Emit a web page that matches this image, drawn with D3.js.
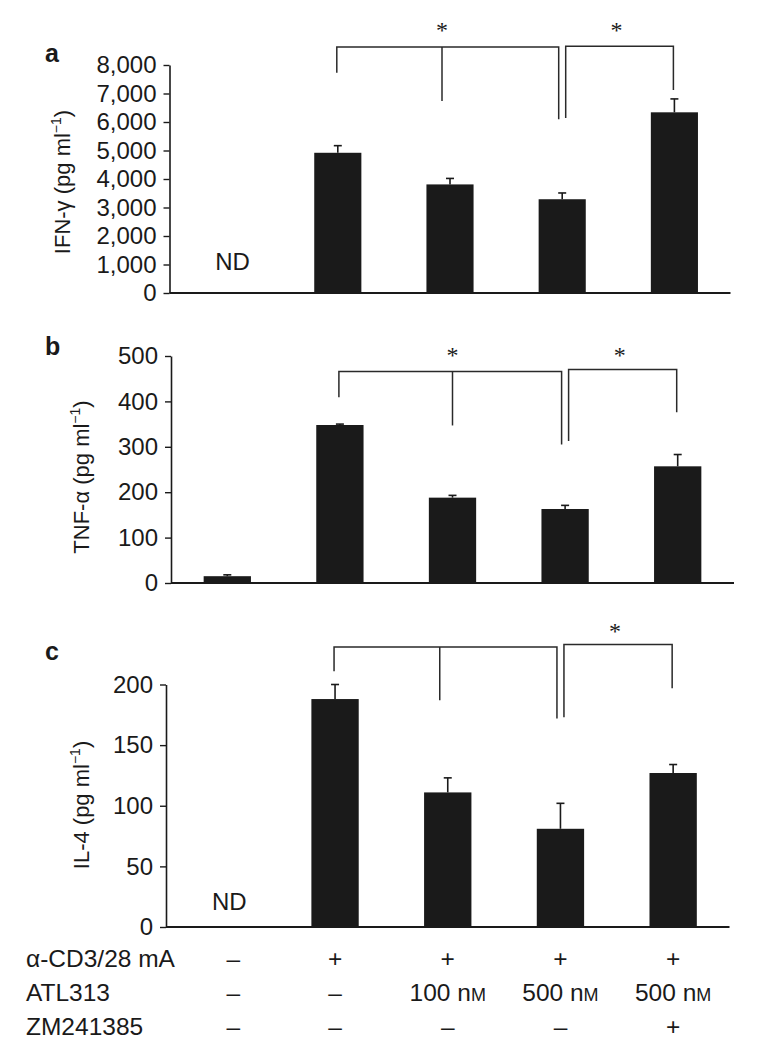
<!DOCTYPE html>
<html>
<head>
<meta charset="utf-8">
<script src="https://cdn.jsdelivr.net/npm/d3@7"></script>
<style>
  html, body { margin: 0; padding: 0; background: #fff; }
  svg { display: block; }
  text { font-family: "Liberation Sans", Arial, Helvetica, sans-serif; fill: #1a1a1a; }
</style>
</head>
<body>
<svg id="chart" width="757" height="1050"></svg>
<script>
// ---------------- DATA ----------------
const groups = ["ctrl", "cd3", "atl100", "atl500", "atl500zm"];

const ifnValues = [null, 4920, 3810, 3290, 6340];
const ifnErrors = [null, 250, 210, 220, 470];
const ifnTicks = [0, 1000, 2000, 3000, 4000, 5000, 6000, 7000, 8000];

const tnfValues = [15, 348, 188, 163, 257];
const tnfErrors = [3, 2, 5, 8, 26];
const tnfTicks = [0, 100, 200, 300, 400, 500];

const il4Values = [null, 188, 111, 81, 127];
const il4Errors = [null, 12, 12, 21, 7];
const il4Ticks = [0, 50, 100, 150, 200];

// significance brackets (values in data units)
const ifnBrackets = [
  { from: 1, to: 3, mid: 2, top: 8630, legFrom: 7730, legMid: 6740, legTo: 6100, star: true },
  { from: 3, to: 4, top: 8660, legFrom: 6140, legTo: 7120, star: true }
];
const tnfBrackets = [
  { from: 1, to: 3, mid: 2, top: 466, legFrom: 409, legMid: 347, legTo: 305, star: true },
  { from: 3, to: 4, top: 470, legFrom: 313, legTo: 376, star: true }
];
const il4Brackets = [
  { from: 1, to: 3, mid: 2, top: 231, legFrom: 211, legMid: 187, legTo: 172, star: false },
  { from: 3, to: 4, top: 233, legFrom: 173, legTo: 197, star: true }
];
const starLevels = { ifn: 9330, tnf: 509, il4: 247 };

const tableRowLabels = ["α-CD3/28 mA", "ATL313", "ZM241385"];
const cd3Row = ["–", "+", "+", "+", "+"];
const atlRow = ["–", "–", "100 nM", "500 nM", "500 nM"];
const zmRow = ["–", "–", "–", "–", "+"];

// ---------------- LAYOUT ----------------
const svg = d3.select("#chart");
const INK = "#1a1a1a";
const FONT = 24;

const panels = [
  { letter: "a", values: ifnValues, errors: ifnErrors, ticks: ifnTicks, fmt: d3.format(","),
    x0: 169.5, x1: 730.5, yTop: 65, yBase: 293, labelX: 70, labelY: 182,
    label: ["IFN-γ (pg ml", "−1", ")"], brackets: ifnBrackets, starKey: "ifn",
    midShift: -8, letterY: 62, ndY: 270 },
  { letter: "b", values: tnfValues, errors: tnfErrors, ticks: tnfTicks, fmt: d3.format("d"),
    x0: 171, x1: 734, yTop: 356, yBase: 583, labelX: 89, labelY: 477,
    label: ["TNF-α (pg ml", "−1", ")"], brackets: tnfBrackets, starKey: "tnf",
    midShift: 0, letterY: 355, ndY: null },
  { letter: "c", values: il4Values, errors: il4Errors, ticks: il4Ticks, fmt: d3.format("d"),
    x0: 166, x1: 729.5, yTop: 684.5, yBase: 927, labelX: 89, labelY: 805,
    label: ["IL-4 (pg ml", "−1", ")"], brackets: il4Brackets, starKey: "il4",
    midShift: -8, letterY: 660, ndY: 910 }
];

let lastX = null;

panels.forEach(p => {
  const g = svg.append("g");
  const x = d3.scaleBand().domain(groups).range([p.x0, p.x1]).paddingInner(0.58).paddingOuter(0.29);
  const y = d3.scaleLinear().domain([p.ticks[0], p.ticks[p.ticks.length - 1]]).range([p.yBase, p.yTop]);
  lastX = x;
  const cx = i => x(groups[i]) + x.bandwidth() / 2;

  // y axis
  const yAxis = d3.axisLeft(y).tickValues(p.ticks).tickFormat(p.fmt).tickSize(6).tickSizeOuter(0).tickPadding(7);
  const ax = g.append("g").attr("transform", `translate(${p.x0},0)`).call(yAxis);
  ax.select(".domain").attr("stroke", INK).attr("stroke-width", 1.6);
  ax.selectAll(".tick line").attr("stroke", INK).attr("stroke-width", 1.4);
  ax.selectAll(".tick text").attr("font-size", FONT).attr("fill", INK)
    .style("font-family", '"Liberation Sans", Arial, sans-serif');

  // x baseline
  g.append("line").attr("x1", p.x0).attr("x2", p.x1).attr("y1", y(0)).attr("y2", y(0))
    .attr("stroke", INK).attr("stroke-width", 1.8);

  // bars
  const data = groups.map((k, i) => ({ k, v: p.values[i], e: p.errors[i] })).filter(d => d.v != null);
  g.selectAll("rect.bar").data(data).join("rect").attr("class", "bar")
    .attr("x", d => x(d.k)).attr("width", x.bandwidth())
    .attr("y", d => y(d.v)).attr("height", d => y(0) - y(d.v))
    .attr("fill", INK);

  // error bars (upper only)
  g.selectAll("line.err").data(data).join("line").attr("class", "err")
    .attr("x1", d => x(d.k) + x.bandwidth() / 2).attr("x2", d => x(d.k) + x.bandwidth() / 2)
    .attr("y1", d => y(d.v)).attr("y2", d => y(d.v + d.e))
    .attr("stroke", INK).attr("stroke-width", 1.6);
  g.selectAll("line.cap").data(data).join("line").attr("class", "cap")
    .attr("x1", d => x(d.k) + x.bandwidth() / 2 - 4).attr("x2", d => x(d.k) + x.bandwidth() / 2 + 4)
    .attr("y1", d => y(d.v + d.e)).attr("y2", d => y(d.v + d.e))
    .attr("stroke", INK).attr("stroke-width", 1.6);

  // ND labels
  groups.forEach((k, i) => {
    if (p.values[i] == null && p.ndY != null) {
      g.append("text").attr("x", cx(i) + 7).attr("y", p.ndY).attr("text-anchor", "middle")
        .attr("font-size", FONT).text("ND");
    }
  });

  // brackets
  const bStroke = "#2a2a2a";
  p.brackets.forEach((b, bi) => {
    const xl = cx(b.from) + (bi === 1 ? 3.5 : -1);
    const xr = cx(b.to) + (bi === 0 ? -3.5 : -1);
    const path = d3.path();
    path.moveTo(xl, y(b.legFrom));
    path.lineTo(xl, y(b.top));
    path.lineTo(xr, y(b.top));
    path.lineTo(xr, y(b.legTo));
    g.append("path").attr("d", path.toString()).attr("fill", "none")
      .attr("stroke", bStroke).attr("stroke-width", 1.5);
    let starX = (xl + xr) / 2 - 3;
    if (b.mid != null) {
      const xm = cx(b.mid) + p.midShift;
      g.append("line").attr("x1", xm).attr("x2", xm).attr("y1", y(b.top)).attr("y2", y(b.legMid))
        .attr("stroke", bStroke).attr("stroke-width", 1.5);
      starX = xm;
    }
    if (b.star) {
      g.append("text").attr("x", starX).attr("y", y(starLevels[p.starKey]) + 11)
        .attr("text-anchor", "middle").attr("font-size", 24)
        .style("font-family", '"Liberation Serif", "DejaVu Serif", serif').attr("fill", "#444")
        .text("*");
    }
  });

  // y label
  const lt = g.append("text").attr("transform", `translate(${p.labelX},${p.labelY}) rotate(-90)`)
    .attr("text-anchor", "middle").attr("font-size", 22);
  lt.append("tspan").text(p.label[0]);
  lt.append("tspan").attr("font-size", 14).attr("dy", -9).text(p.label[1]);
  lt.append("tspan").attr("dy", 9).text(p.label[2]);

  // panel letter
  g.append("text").attr("x", 45).attr("y", p.letterY).attr("font-size", 25)
    .attr("font-weight", "bold").text(p.letter);
});

// ---------------- TABLE ----------------
const rows = [cd3Row, atlRow, zmRow];
const rowY = [967, 1001, 1035];
const TFONT = 24.5;
const tcx = i => lastX(groups[i]) + lastX.bandwidth() / 2 + (i === 0 ? 11 : 0);
rows.forEach((row, r) => {
  svg.append("text").attr("x", 26).attr("y", rowY[r]).attr("font-size", TFONT).text(tableRowLabels[r]);
  row.forEach((cell, i) => {
    const t = svg.append("text").attr("x", tcx(i)).attr("y", rowY[r]).attr("text-anchor", "middle")
      .attr("font-size", TFONT);
    const m = cell.match(/^(\d+) nM$/);
    if (m) {
      t.append("tspan").text(m[1] + " n");
      t.append("tspan").attr("font-size", 18).text("M");
    } else {
      t.text(cell);
    }
  });
});
</script>
</body>
</html>
